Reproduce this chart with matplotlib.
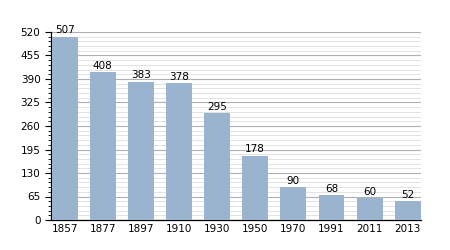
import matplotlib
matplotlib.use('Agg')
import matplotlib.pyplot as plt
from matplotlib.ticker import MultipleLocator
import numpy as np

years = ['1857', '1877', '1897', '1910', '1930', '1950', '1970', '1991', '2011', '2013']
population = [507, 408, 383, 378, 295, 178, 90, 68, 60, 52]

fig = plt.figure(figsize=(4.5, 2.5), dpi=100)
ax = fig.add_axes([0.113, 0.12, 0.822, 0.752])

x = np.arange(len(years))
w = 0.68
ax.bar(x, population, width=w, color='#9ab3cf', zorder=3)

for xi, v in zip(x, population):
    ax.text(xi, v + 4, str(v), ha='center', va='bottom', fontsize=7.5, color='black')

ax.set_xlim(-w / 2 - 0.02, len(years) - 1 + w / 2)
ax.set_ylim(0, 520)
ax.set_xticks(x)
ax.set_xticklabels(years, fontsize=7.5)
ax.yaxis.set_major_locator(MultipleLocator(65))
ax.yaxis.set_minor_locator(MultipleLocator(13))
ax.tick_params(axis='y', labelsize=7.5, length=4, width=0.8)
ax.tick_params(axis='y', which='minor', length=2, width=0.6)
ax.tick_params(axis='x', length=0, pad=3)

ax.grid(axis='y', which='major', color='#b0b0b0', linewidth=0.8, zorder=0)
ax.grid(axis='y', which='minor', color='#dddddd', linewidth=0.6, zorder=0)

for s in ['top', 'right']:
    ax.spines[s].set_visible(False)
ax.spines['left'].set_linewidth(0.9)
ax.spines['bottom'].set_linewidth(0.9)

fig.savefig('out.png', dpi=100)
